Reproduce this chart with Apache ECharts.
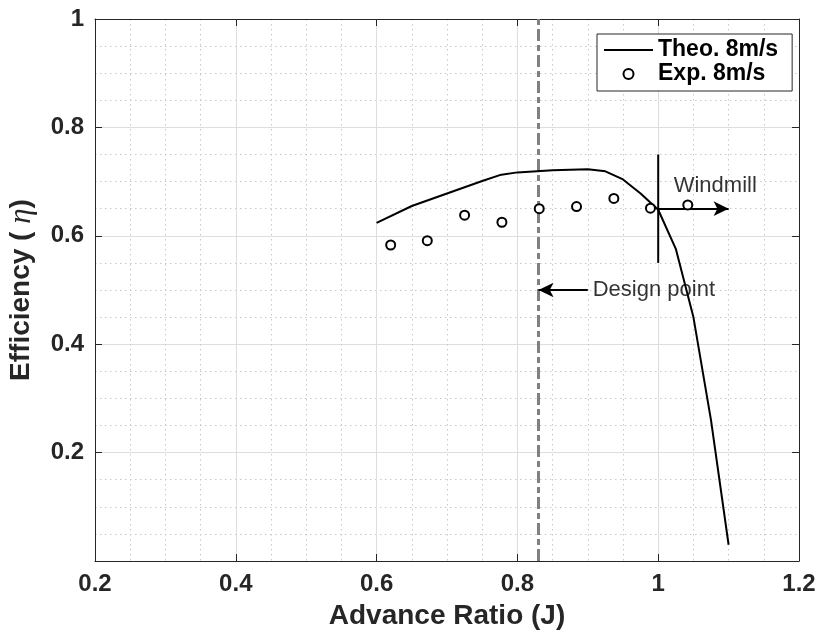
<!DOCTYPE html>
<html><head><meta charset="utf-8">
<script src="https://cdn.jsdelivr.net/npm/echarts@6/dist/echarts.min.js"></script>
<style>html,body{margin:0;padding:0;background:#fff}#c{width:819px;height:633px}</style>
</head><body><div id="c"></div>
<script>
// ---- data ----
const theoJ   = [0.6, 0.65, 0.7, 0.75, 0.775, 0.8, 0.85, 0.9, 0.925, 0.95, 0.975, 1.0, 1.025, 1.05, 1.075, 1.1];
const theoEta = [0.624, 0.655, 0.678, 0.701, 0.712, 0.717, 0.721, 0.723, 0.719, 0.704, 0.678, 0.648, 0.576, 0.45, 0.26, 0.03];
const expJ    = [0.62, 0.672, 0.725, 0.778, 0.831, 0.884, 0.937, 0.989, 1.042];
const expEta  = [0.583, 0.591, 0.638, 0.625, 0.650, 0.654, 0.669, 0.651, 0.657];
const seriesNames = ['Theo. 8m/s', 'Exp. 8m/s'];
const xRange = [0.2, 1.2];
const yRange = [0, 1];
const tickStep = 0.2;
const designJ = 0.83;
const designArrow = [[0.9, 0.5], [0.83, 0.5]];
const designLabel = [0.907, 0.5, 'Design point'];
const windmillBar = [[1.0, 0.55], [1.0, 0.75]];
const windmillArrow = [[1.0, 0.65], [1.1, 0.65]];
const windmillLabel = [1.022, 0.692, 'Windmill'];

const FONT = '"Liberation Sans", Arial, Helvetica, sans-serif';
const TXT = '#262626';

const theoData = theoJ.map((j, i) => [j, theoEta[i]]);
const expData = expJ.map((j, i) => [j, expEta[i]]);

function axisCommon(range) {
  return {
    type: 'value', min: range[0], max: range[1], interval: tickStep,
    axisLine: { show: true, onZero: false, lineStyle: { color: TXT, width: 1 } },
    axisTick: { show: true, inside: true, length: 7, lineStyle: { color: TXT, width: 1 } },
    minorTick: { show: false, splitNumber: 4 },
  };
}

const chart = echarts.init(document.getElementById('c'), null, { renderer: 'canvas' });
chart.setOption({
  animation: false,
  backgroundColor: '#fff',
  grid: { left: 95, top: 19, right: 20, bottom: 72, show: false, containLabel: false, outerBoundsMode: 'none' },
  legend: {
    data: [
      { name: seriesNames[0], itemStyle: { opacity: 0 } },
      { name: seriesNames[1] },
    ],
    orient: 'vertical',
    left: 597, top: 34,
    padding: [4, 14, 5, 6],
    itemGap: 0,
    itemWidth: 49, itemHeight: 10,
    backgroundColor: '#fff',
    borderColor: TXT, borderWidth: 1,
    textStyle: { fontFamily: FONT, fontWeight: 'bold', fontSize: 23, color: '#000', lineHeight: 24 },
  },
  xAxis: [
    Object.assign(axisCommon(xRange), {
      position: 'bottom',
      name: 'Advance Ratio (J)', nameLocation: 'middle', nameGap: 41,
      nameTextStyle: { fontFamily: FONT, fontWeight: 'bold', fontSize: 28, color: TXT },
      axisLabel: { margin: 11, fontFamily: FONT, fontWeight: 'bold', fontSize: 24, color: TXT },
      splitLine: { show: true, lineStyle: { color: '#dedede', width: 1 } },
      minorSplitLine: { show: true, lineStyle: { color: '#c8c8c8', width: 1, type: [1.5, 3.5] } },
    }),
    Object.assign(axisCommon(xRange), {
      position: 'top',
      axisLabel: { show: false }, splitLine: { show: false },
    }),
  ],
  yAxis: [
    Object.assign(axisCommon(yRange), {
      position: 'left',
      name: 'Efficiency ( {i|η})', nameLocation: 'middle', nameGap: 58,
      nameTextStyle: {
        fontFamily: FONT, fontWeight: 'bold', fontSize: 28, color: TXT,
        rich: { i: { fontFamily: '"Liberation Serif", "DejaVu Serif", serif', fontStyle: 'italic', fontWeight: 'normal', fontSize: 31, color: TXT } },
      },
      axisLabel: {
        margin: 11, fontFamily: FONT, fontWeight: 'bold', fontSize: 24, color: TXT,
        formatter: v => (v === 0 ? '' : String(v)),
      },
      splitLine: { show: true, lineStyle: { color: '#dedede', width: 1 } },
      minorSplitLine: { show: true, lineStyle: { color: '#c8c8c8', width: 1, type: [1.5, 3.5] } },
    }),
    Object.assign(axisCommon(yRange), {
      position: 'right',
      axisLabel: { show: false }, splitLine: { show: false },
    }),
  ],
  series: [
    {
      name: 'design', type: 'line', silent: true, symbol: 'none', z: 3,
      data: [[designJ, yRange[0]], [designJ, yRange[1]]],
      lineStyle: { color: '#808080', width: 3, type: [12, 4, 6, 4] },
      markLine: {
        silent: true, symbol: ['none', 'arrow'], symbolSize: [11, 15],
        label: { show: false },
        lineStyle: { color: '#000', width: 2, type: 'solid' },
        data: [[{ coord: designArrow[0] }, { coord: designArrow[1] }]],
      },
    },
    {
      name: seriesNames[0], type: 'line', symbol: 'none', showSymbol: false, z: 4,
      data: theoData,
      lineStyle: { color: '#000', width: 2 },
      itemStyle: { color: '#000' },
    },
    {
      name: 'windmill', type: 'line', silent: true, symbol: 'none', z: 4,
      data: windmillBar,
      lineStyle: { color: '#000', width: 2 },
      markLine: {
        silent: true, symbol: ['none', 'arrow'], symbolSize: [11, 15],
        label: { show: false },
        lineStyle: { color: '#000', width: 2, type: 'solid' },
        data: [[{ coord: windmillArrow[0] }, { coord: windmillArrow[1] }]],
      },
    },
    {
      name: seriesNames[1], type: 'scatter', symbol: 'circle', symbolSize: 9, z: 5,
      data: expData,
      itemStyle: { color: '#fff', borderColor: '#000', borderWidth: 2, opacity: 1 },
    },
    {
      name: 'labels', type: 'scatter', silent: true, symbolSize: 0, z: 6,
      data: [designLabel, windmillLabel],
      label: {
        show: true, position: 'right', distance: 0,
        formatter: p => p.data[2],
        fontFamily: FONT, fontSize: 22, color: '#000',
      },
    },
  ],
});
</script>
</body></html>
